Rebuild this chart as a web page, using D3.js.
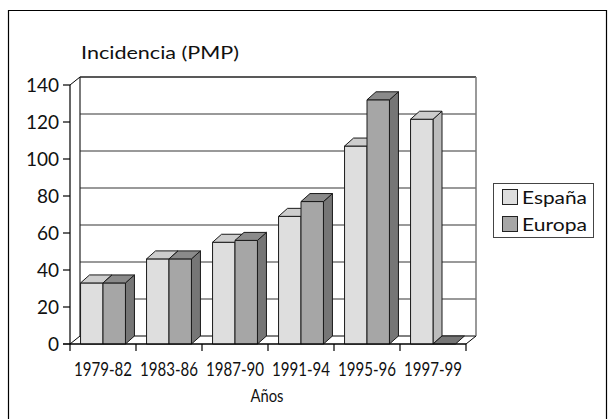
<!DOCTYPE html>
<html><head><meta charset="utf-8">
<script src="https://cdn.jsdelivr.net/npm/d3@7"></script>
<style>
body{margin:0;background:#fff;}
text{font-family:Lato,"Open Sans",sans-serif;fill:#111;}
</style></head>
<body><svg id="c" width="608" height="419"></svg>
<script>
const categories = ["1979-82","1983-86","1987-90","1991-94","1995-96","1997-99"];
const seriesNames = ["España","Europa"];
const espana = [33, 46, 55, 69, 107, 121.5];
const europa = [33, 46, 56, 77, 132, 0];
const yTicks = [0,20,40,60,80,100,120,140];
const title = "Incidencia (PMP)";
const xTitle = "Años";

(function(){
const svg = d3.select("#c");
const DX = 10, DY = 8;      // wall depth
const BDX = 9, BDY = 8;     // bar depth
const pLeft = 70, pRight = 466, pBottom = 344, pTop = 85;

const faces = {
  "España": {front:"#dedede", top:"#cdcdcd", side:"#bcbcbc"},
  "Europa": {front:"#a6a6a6", top:"#8a8a8a", side:"#767676"}
};

const x0 = d3.scaleBand().domain(categories).range([pLeft, pRight]);
const x1 = d3.scaleBand().domain(seriesNames).range([0, x0.bandwidth()]).paddingInner(0).paddingOuter(0.47);
const y = d3.scaleLinear().domain([0,140]).range([pBottom, pTop]);

// frame
svg.append("path").attr("d","M8.5,419 V10.5 H606.5 V419").attr("fill","none").attr("stroke","#000").attr("stroke-width",1.2);

// floor
svg.append("path")
  .attr("d",`M${pLeft},${pBottom} L${pLeft+DX},${pBottom-DY} L${pRight+DX},${pBottom-DY} L${pRight},${pBottom} Z`)
  .attr("fill","#fff").attr("stroke","#000").attr("stroke-width",1);

// gridlines on back wall
svg.selectAll("line.grid").data(yTicks.filter(d=>d>0)).enter().append("line")
  .attr("x1", pLeft+DX).attr("x2", pRight+DX)
  .attr("y1", d=>y(d)-DY).attr("y2", d=>y(d)-DY)
  .attr("stroke", d=> d===140 ? "#222" : "#777").attr("stroke-width", 1.5);
// back wall edges
svg.append("line").attr("x1",pLeft+DX).attr("x2",pLeft+DX).attr("y1",y(140)-DY).attr("y2",pBottom-DY).attr("stroke","#222").attr("stroke-width",1.2);
svg.append("line").attr("x1",pRight+DX).attr("x2",pRight+DX).attr("y1",y(140)-DY).attr("y2",pBottom-DY).attr("stroke","#777").attr("stroke-width",1.5);
// side wall top diagonal
svg.append("line").attr("x1",pLeft).attr("y1",y(140)).attr("x2",pLeft+DX).attr("y2",y(140)-DY).attr("stroke","#000").attr("stroke-width",1);

// bars
const bars = [];
categories.forEach((c,i)=>{
  bars.push({cat:c, s:"España", v:espana[i]});
  bars.push({cat:c, s:"Europa", v:europa[i]});
});
const bw = x1.bandwidth();
const g = svg.append("g").attr("stroke","#1a1a1a").attr("stroke-width",1).attr("stroke-linejoin","round");
bars.forEach(b=>{
  const xl = x0(b.cat) + x1(b.s), xr = xl + bw, yt = y(b.v), yb = y(0);
  const f = faces[b.s];
  if (b.v > 0) {
    g.append("path").attr("d",`M${xr},${yb} L${xr+BDX},${yb-BDY} L${xr+BDX},${yt-BDY} L${xr},${yt} Z`).attr("fill",f.side);
    g.append("rect").attr("x",xl).attr("y",yt).attr("width",bw).attr("height",yb-yt).attr("fill",f.front);
  }
  g.append("path").attr("d",`M${xl},${yt} L${xl+BDX},${yt-BDY} L${xr+BDX},${yt-BDY} L${xr},${yt} Z`).attr("fill", b.v>0 ? f.top : f.side);
});

// y axis
const yAxisG = svg.append("g");
yAxisG.append("line").attr("x1",pLeft).attr("x2",pLeft).attr("y1",y(140)).attr("y2",pBottom).attr("stroke","#000").attr("stroke-width",1.2);
yAxisG.selectAll("line.t").data(yTicks).enter().append("line")
  .attr("x1",pLeft-7).attr("x2",pLeft).attr("y1",d=>y(d)).attr("y2",d=>y(d)).attr("stroke","#000").attr("stroke-width",1.2);
yAxisG.selectAll("text").data(yTicks).enter().append("text")
  .attr("x",pLeft-11).attr("y",d=>y(d)+6.5).attr("text-anchor","end")
  .attr("font-size",19).text(d=>d);

// x axis
svg.append("line").attr("x1",pLeft-7).attr("x2",pRight).attr("y1",pBottom).attr("y2",pBottom).attr("stroke","#000").attr("stroke-width",1.2);
const xt = categories.map(c=>x0(c)).concat([pRight]);
svg.selectAll("line.xt").data(xt).enter().append("line")
  .attr("x1",d=>d).attr("x2",d=>d).attr("y1",pBottom).attr("y2",pBottom+7).attr("stroke","#000").attr("stroke-width",1.2);
svg.selectAll("text.xl").data(categories).enter().append("text")
  .attr("x",d=>x0(d)+x0.bandwidth()/2).attr("y",376).attr("text-anchor","middle")
  .attr("font-size",19).attr("textLength",58).attr("lengthAdjust","spacingAndGlyphs").text(d=>d);
svg.append("text").attr("x",(pLeft+pRight)/2 - 1).attr("y",402).attr("text-anchor","middle")
  .attr("font-size",17).attr("textLength",33).attr("lengthAdjust","spacingAndGlyphs").text(xTitle);

// title
svg.append("text").attr("x",81).attr("y",59).attr("font-size",18).attr("textLength",158).attr("lengthAdjust","spacingAndGlyphs").text(title);

// legend
const lg = svg.append("g");
lg.append("rect").attr("x",493.5).attr("y",183.5).attr("width",100).attr("height",54).attr("fill","#fff").attr("stroke","#444").attr("stroke-width",1);
seriesNames.forEach((s,i)=>{
  lg.append("rect").attr("x",502.5).attr("y",189.5+i*27).attr("width",15).attr("height",15).attr("fill",faces[s].front).attr("stroke","#222");
  lg.append("text").attr("x",522).attr("y",204+i*27).attr("font-size",18).attr("textLength",65).attr("lengthAdjust","spacingAndGlyphs").text(s);
});
})();
</script></body></html>
